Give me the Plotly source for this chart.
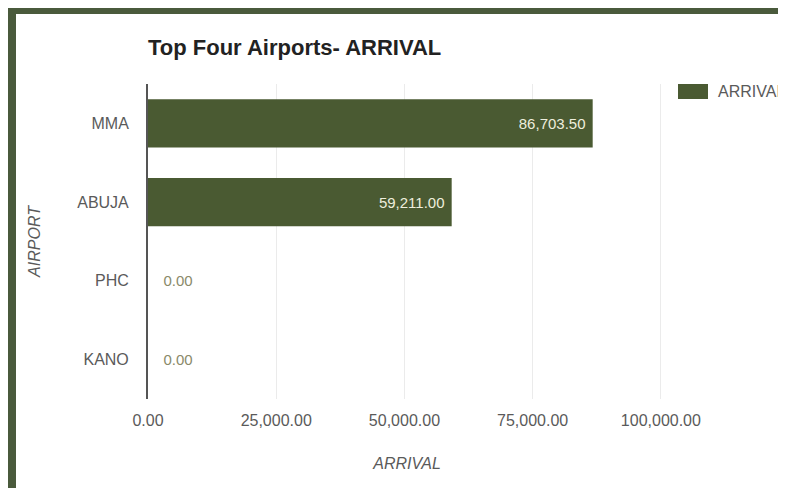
import plotly.graph_objects as go

airports = ["MMA", "ABUJA", "PHC", "KANO"]
arrivals = [86703.50, 59211.00, 0.00, 0.00]
x_ticks = [0, 25000, 50000, 75000, 100000]
x_tick_labels = ["0.00", "25,000.00", "50,000.00", "75,000.00", "100,000.00"]

OFF = 8  # page offset of the figure (body margin)
W, H = 786 - OFF, 488 - OFF
L, R, T, B = 148 - OFF, W - (666 - OFF), 84 - OFF, H - (399 - OFF)
PW, PH = W - L - R, H - T - B

BAR = "#4a5a32"
FRAME = "#4a5a3c"
FONT = "Liberation Sans, Arial, sans-serif"
FS = 16


def px(x):
    return (x - OFF - L) / PW


def py(y):
    return (H - B - (y - OFF)) / PH


labels = []
positions = []
for v in arrivals:
    if v > 0:
        labels.append(f"{v:,.2f}\u00a0")
        positions.append("inside")
    else:
        labels.append("\u00a0\u00a0\u00a0" + f"{v:,.2f}")
        positions.append("outside")

fig = go.Figure()
fig.add_trace(go.Bar(
    y=airports,
    x=arrivals,
    orientation="h",
    name="ARRIVAL",
    marker=dict(color=BAR, line=dict(width=0)),
    text=labels,
    textposition=positions,
    insidetextanchor="end",
    insidetextfont=dict(color="#eeeedd", size=15, family=FONT),
    outsidetextfont=dict(color="#8a8a6a", size=15, family=FONT),
    cliponaxis=False,
))

fig.update_layout(
    width=W, height=H,
    margin=dict(l=L, r=R, t=T, b=B, autoexpand=False),
    paper_bgcolor="#ffffff",
    plot_bgcolor="#ffffff",
    bargap=0.39,
    font=dict(family=FONT, size=FS, color="#5a5a5a"),
    title=dict(
        text="Top Four Airports- ARRIVAL",
        x=(148 - OFF) / W, xref="container", xanchor="left",
        y=1 - (47 - OFF) / H, yref="container", yanchor="middle",
        font=dict(size=22, color="#222222", family=FONT, weight="bold"),
    ),
    showlegend=True,
    legend=dict(
        x=px(678), y=py(74), xanchor="left", yanchor="top",
        font=dict(size=FS, color="#5a5a5a", family=FONT),
        bgcolor="rgba(0,0,0,0)",
    ),
    xaxis=dict(
        range=[0, 101000],
        tickvals=x_ticks,
        ticktext=x_tick_labels,
        showgrid=True,
        gridcolor="#ebebeb",
        gridwidth=1,
        zeroline=False,
        showline=False,
        ticks="",
        ticklabelstandoff=10,
        tickfont=dict(size=FS, color="#5a5a5a"),
        title=dict(text="<i>ARRIVAL</i>", font=dict(size=FS, color="#5a5a5a"), standoff=29),
    ),
    yaxis=dict(
        categoryorder="array",
        categoryarray=airports,
        autorange="reversed",
        showgrid=False,
        zeroline=False,
        showline=True,
        linecolor="#555555",
        linewidth=2,
        ticks="",
        ticklabelstandoff=14,
        tickfont=dict(size=FS, color="#5a5a5a"),
        title=dict(text="<i>AIRPORT</i>", font=dict(size=FS, color="#5a5a5a"), standoff=33),
    ),
    shapes=[
        dict(type="rect", xref="paper", yref="paper",
             x0=px(8), x1=px(786), y0=py(14), y1=py(6),
             fillcolor=FRAME, line=dict(width=0), layer="above"),
        dict(type="rect", xref="paper", yref="paper",
             x0=px(7), x1=px(16), y0=py(490), y1=py(6),
             fillcolor=FRAME, line=dict(width=0), layer="above"),
        # wider legend swatch, as in the reference
        dict(type="rect", xref="paper", yref="paper",
             x0=px(678), x1=px(708), y0=py(99), y1=py(84),
             fillcolor=BAR, line=dict(width=0), layer="above"),
    ],
)

fig.write_html("out.html")
